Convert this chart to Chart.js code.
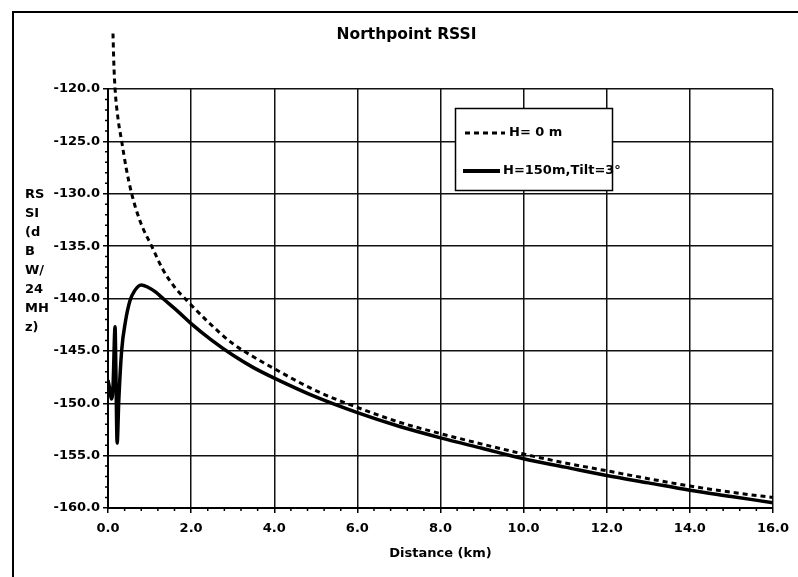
<!DOCTYPE html>
<html><head><meta charset="utf-8">
<script src="https://cdn.jsdelivr.net/npm/chart.js@4.4.1/dist/chart.umd.min.js"></script>
<style>html,body{margin:0;padding:0;background:#fff;}</style>
</head><body>
<canvas id="c" width="798" height="577"></canvas>
<script>
// ---- text ----
const chartTitle = 'Northpoint RSSI';
const xAxisTitle = 'Distance (km)';
const yAxisTitleLines = ['RS', 'SI', '(d', 'B', 'W/', '24', 'MH', 'z)'];
const seriesLabels = ['H= 0 m', 'H=150m,Tilt=3°'];

// ---- data: H = 0 m (dashed) ----
const distFlat = [0.12, 0.14, 0.17, 0.24, 0.33, 0.44, 0.57, 0.78, 1.05, 1.33, 1.6, 1.9, 2.4, 3.0, 3.6, 4.0, 5.0, 6.0, 7.0, 8.0, 9.0, 10.0, 11.0, 12.0, 13.0, 14.0, 15.0, 16.0];
const rssiFlat = [-114.7, -117.5, -120.0, -122.8, -125.0, -127.6, -130.0, -132.7, -135.0, -137.3, -138.9, -140.2, -142.2, -144.3, -145.8, -146.7, -148.8, -150.4, -151.8, -152.9, -153.9, -154.85, -155.7, -156.45, -157.2, -157.9, -158.5, -159.0];

// ---- data: H = 150 m, Tilt = 3° (solid) ----
const distTilt = [0.0, 0.04, 0.08, 0.12, 0.17, 0.19, 0.22, 0.26, 0.33, 0.42, 0.53, 0.65, 0.8, 0.95, 1.15, 1.35, 1.7, 2.0, 2.5, 3.0, 3.5, 4.0, 5.0, 6.0, 7.0, 8.0, 9.0, 10.0, 11.0, 12.0, 13.0, 14.0, 15.0, 16.0];
const rssiTilt = [-147.8, -148.6, -149.6, -148.5, -142.7, -147.0, -153.8, -149.7, -144.9, -142.2, -140.2, -139.2, -138.7, -138.9, -139.4, -140.1, -141.3, -142.4, -144.0, -145.4, -146.6, -147.6, -149.4, -150.9, -152.2, -153.3, -154.3, -155.3, -156.1, -156.9, -157.6, -158.3, -158.9, -159.5];

// ---- axes ----
const xMin = 0, xMax = 16, xStep = 2, xMinorPerMajor = 5;
const yMin = -160, yMax = -120, yStep = 5, yMinorPerMajor = 5;

const FONT = 'DejaVu Sans';
const toPts = (xs, ys) => xs.map((x, i) => ({x: x, y: ys[i]}));

const decor = {
  id: 'decor',
  afterDatasetsDraw(chart) {
    const ctx = chart.ctx;
    // legend box
    const bx = 455.5, by = 108.5, bw = 157, bh = 82;
    ctx.save();
    ctx.fillStyle = '#fff';
    ctx.fillRect(bx, by, bw, bh);
    ctx.strokeStyle = '#000';
    ctx.lineWidth = 1.5;
    ctx.strokeRect(bx, by, bw, bh);
    const ds = chart.data.datasets;
    ctx.font = 'bold 13px "' + FONT + '"';
    ctx.textBaseline = 'middle';
    ctx.fillStyle = '#000';
    // entry 1 (dashed)
    ctx.beginPath();
    ctx.setLineDash(ds[0].borderDash);
    ctx.lineWidth = ds[0].borderWidth;
    ctx.moveTo(465, 133); ctx.lineTo(505, 133); ctx.stroke();
    ctx.setLineDash([]);
    ctx.fillText(ds[0].label, 509, 133);
    // entry 2 (solid)
    ctx.beginPath();
    ctx.lineWidth = ds[1].borderWidth + 0.5;
    ctx.moveTo(463, 171); ctx.lineTo(500, 171); ctx.stroke();
    ctx.fillText(ds[1].label, 503, 171);
    ctx.restore();
  },
  afterDraw(chart) {
    const ctx = chart.ctx;
    const xs = chart.scales.x, ys = chart.scales.y;
    const area = chart.chartArea;
    ctx.save();
    ctx.strokeStyle = '#000';
    ctx.lineWidth = 1.5;
    // minor ticks x
    const xMinor = xStep / xMinorPerMajor;
    const nX = Math.round((xMax - xMin) / xMinor);
    ctx.beginPath();
    for (let i = 0; i <= nX; i++) {
      if (i % xMinorPerMajor === 0) continue;
      const px = xs.getPixelForValue(xMin + i * xMinor);
      ctx.moveTo(px, area.bottom); ctx.lineTo(px, area.bottom + 3);
    }
    // minor ticks y
    const yMinor = yStep / yMinorPerMajor;
    const nY = Math.round((yMax - yMin) / yMinor);
    for (let i = 0; i <= nY; i++) {
      if (i % yMinorPerMajor === 0) continue;
      const py = ys.getPixelForValue(yMin + i * yMinor);
      ctx.moveTo(area.left - 3, py); ctx.lineTo(area.left, py);
    }
    ctx.stroke();
    // outer frame (left and top)
    ctx.lineWidth = 2;
    ctx.beginPath();
    ctx.moveTo(13, 577); ctx.lineTo(13, 12); ctx.lineTo(798, 12);
    ctx.stroke();
    // y axis title, stacked
    ctx.fillStyle = '#000';
    ctx.font = 'bold 13px "' + FONT + '"';
    ctx.textBaseline = 'middle';
    ctx.textAlign = 'left';
    yAxisTitleLines.forEach((t, i) => ctx.fillText(t, 25, 195 + i * 19));
    ctx.restore();
  }
};

const tickFont = {family: FONT, size: 13, weight: 'bold'};

new Chart(document.getElementById('c'), {
  type: 'line',
  data: {
    datasets: [
      {
        label: seriesLabels[0],
        data: toPts(distFlat, rssiFlat),
        borderColor: '#000',
        borderWidth: 3,
        borderDash: [5, 4],
        pointRadius: 0,
        fill: false,
        clip: false,
        cubicInterpolationMode: 'monotone'
      },
      {
        label: seriesLabels[1],
        data: toPts(distTilt, rssiTilt),
        borderColor: '#000',
        borderWidth: 3.5,
        pointRadius: 0,
        fill: false,
        cubicInterpolationMode: 'monotone'
      }
    ]
  },
  options: {
    responsive: false,
    animation: false,
    devicePixelRatio: 1,
    layout: {padding: {left: 40, right: 25, top: 0, bottom: 0}},
    plugins: {
      legend: {display: false},
      tooltip: {enabled: false},
      title: {
        display: true,
        text: chartTitle,
        color: '#000',
        font: {family: FONT, size: 15.5, weight: 'bold'},
        padding: {top: 25.7, bottom: 44.7}
      }
    },
    scales: {
      x: {
        type: 'linear',
        min: xMin, max: xMax,
        afterFit: s => { s.height = 69; },
        ticks: {
          stepSize: xStep,
          color: '#000',
          font: tickFont,
          padding: 8,
          callback: v => Number(v).toFixed(1)
        },
        grid: {color: '#111', lineWidth: 1.5, tickLength: 5, tickColor: '#000', tickWidth: 1.5},
        border: {color: '#000', width: 2},
        title: {display: true, text: xAxisTitle, color: '#000', font: tickFont, padding: {top: 0, bottom: 16}}
      },
      y: {
        min: yMin, max: yMax,
        afterFit: s => { s.width = 68; },
        ticks: {
          stepSize: yStep,
          color: '#000',
          font: tickFont,
          padding: 3,
          callback: v => Number(v).toFixed(1)
        },
        grid: {color: '#111', lineWidth: 1.5, tickLength: 5, tickColor: '#000', tickWidth: 1.5},
        border: {color: '#000', width: 2}
      }
    }
  },
  plugins: [decor]
});
</script>
</body></html>
